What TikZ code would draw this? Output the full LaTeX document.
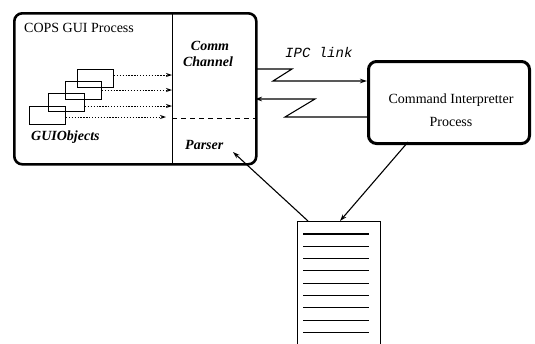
\documentclass[tikz,border=0pt]{standalone}
\usepackage{fontspec}
\setmainfont{Liberation Serif}
\setmonofont{Liberation Mono}
\usetikzlibrary{arrows.meta}
\begin{document}
\begin{tikzpicture}[x=1pt,y=-1pt,
  proc/.style={draw, line width=2.6pt, rounded corners=8pt, inner sep=0pt, anchor=north west},
  gobj/.style={draw, line width=0.9pt, minimum width=36pt, minimum height=18pt, inner sep=0pt, anchor=north west},
  lbl/.style={font=\fontsize{14}{16}\selectfont, inner sep=0pt},
  bilbl/.style={font=\fontsize{14}{16}\selectfont\bfseries\itshape, inner sep=0pt},
  monolbl/.style={font=\fontsize{14}{16}\selectfont\ttfamily\itshape, inner sep=0pt},
  dotarrow/.style={line width=0.9pt, dash pattern=on 1.3pt off 1.6pt, -{Stealth[length=6pt,width=4pt]}},
  arr/.style={line width=1.1pt, -{Stealth[length=7pt,width=4.5pt]}},
  docline/.style={line width=1.1pt},
]
\useasboundingbox (0,0) rectangle (535,343);
% boxes
\node[proc, minimum width=242pt, minimum height=151pt] (main) at (13,12) {};
\node[proc, line width=3pt, minimum width=161pt, minimum height=82pt] (ci) at (367,60) {};
\begin{scope}
  \clip (0,0) rectangle (535,343);
  \node[draw, line width=1pt, anchor=north west, inner sep=0pt, minimum width=83pt, minimum height=140pt] (doc) at (297,221) {};
\end{scope}
\foreach \yy in {234,246.3,258.6,270.9,283.2,295.5,307.8,320.1,332.4}
  \draw[docline] (303,\yy) -- (369,\yy);
% divider and dashed line
\coordinate (dt) at (172,12);
\coordinate (db) at (172,163);
\draw[line width=0.9pt] (dt) -- (db);
\coordinate (dl) at (172,118);
\coordinate (dr) at (255,118);
\draw[line width=0.9pt, dash pattern=on 5pt off 4pt] (dl) -- (dr);
% GUI objects
\node[gobj] (g1) at (77,69) {};
\node[gobj] (g2) at (65,81) {};
\node[gobj] (g3) at (48,93) {};
\node[gobj] (g4) at (29,106) {};
\coordinate (e1) at (172,75);
\coordinate (e2) at (172,90);
\coordinate (e3) at (172,106);
\coordinate (e4) at (166,117);
\draw[dotarrow] (g1.east |- e1) -- (e1);
\draw[dotarrow] (g2.east |- e2) -- (e2);
\draw[dotarrow] (g3.east |- e3) -- (e3);
\draw[dotarrow] (g4.east |- e4) -- (e4);
% labels
\node[lbl, anchor=west] (title) at (24,28) {COPS GUI Process};
\node[bilbl] (comm) at (210,46) {Comm};
\node[bilbl] (chan) at (208,62) {Channel};
\node[bilbl, anchor=west] (guio) at (31,137) {GUIObjects};
\node[bilbl, anchor=west] (parser) at (185,145) {Parser};
\node[monolbl, anchor=west] (ipc) at (285,52) {IPC link};
\node[lbl] (cit) at (451,100) {Command Interpretter};
\node[lbl] (cip) at (451,122) {Process};
% IPC links
\coordinate (a1) at (255,69);
\coordinate (a2) at (292,69);
\coordinate (a3) at (273,81);
\coordinate (a4) at (367,81);
\draw[arr] (a1) -- (a2) -- (a3) -- (a4);
\coordinate (b1) at (367,117);
\coordinate (b2) at (285,117);
\coordinate (b3) at (315,99);
\coordinate (b4) at (255,99);
\draw[arr] (b1) -- (b2) -- (b3) -- (b4);
% document arrows
\coordinate (docA) at (308,221);
\coordinate (parsTip) at (233,152);
\draw[arr] (docA) -- (parsTip);
\coordinate (ciB) at (408,142);
\coordinate (docB) at (340,221);
\draw[arr] (ciB) -- (docB);
\end{tikzpicture}
\end{document}
